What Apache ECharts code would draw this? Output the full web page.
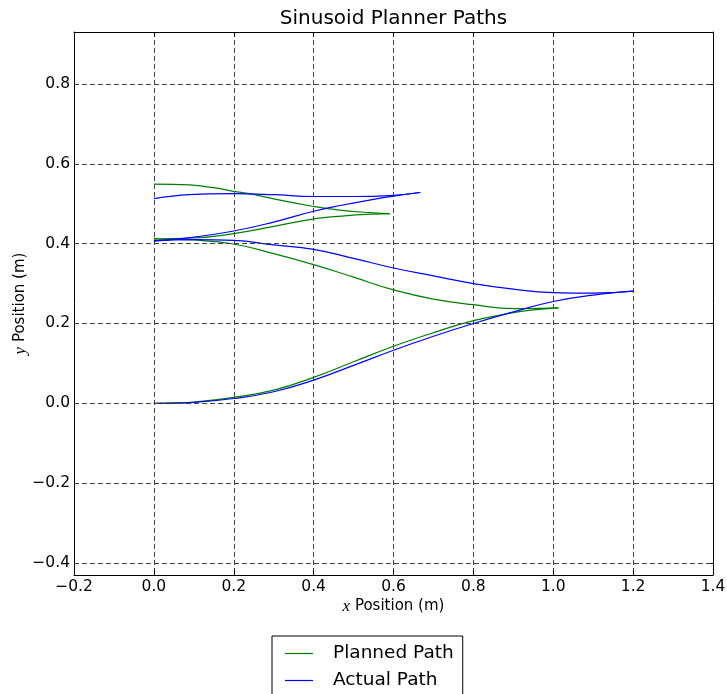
<!DOCTYPE html>
<html>
<head>
<meta charset="utf-8">
<title>Sinusoid Planner Paths</title>
<script src="https://cdn.jsdelivr.net/npm/echarts@6/dist/echarts.min.js"></script>
<style>
  html, body { margin: 0; padding: 0; background: #ffffff; }
  #chart { width: 727px; height: 694px; }
</style>
</head>
<body>
<div id="chart"></div>
<script>
// Axis ranges and tick values
const xRange = [-0.2, 1.4];
const xStep = 0.2;
const yRange = [-0.43, 0.93];
const yTicks = [-0.4, -0.2, 0.0, 0.2, 0.4, 0.6, 0.8];

// Planned path, drawn as four legs (each leg listed left to right)
const plannedLeg1X = [0, 0.05, 0.1, 0.2, 0.3, 0.4, 0.5, 0.6, 0.7, 0.8, 0.9, 0.95, 1.013];
const plannedLeg1Y = [0, 0.001, 0.003, 0.015, 0.033, 0.065, 0.104, 0.143, 0.177, 0.207, 0.227, 0.234, 0.239];
const plannedLeg2X = [0, 0.1, 0.2, 0.3, 0.4, 0.5, 0.6, 0.7, 0.8, 0.9, 0.95, 1.013];
const plannedLeg2Y = [0.412, 0.409, 0.399, 0.375, 0.3475, 0.316, 0.284, 0.261, 0.247, 0.237, 0.2375, 0.239];
const plannedLeg3X = [0, 0.1, 0.2, 0.3, 0.4, 0.47, 0.55, 0.591];
const plannedLeg3Y = [0.412, 0.414, 0.425, 0.443, 0.462, 0.469, 0.474, 0.475];
const plannedLeg4X = [0, 0.09, 0.15, 0.2, 0.24, 0.3, 0.4, 0.47, 0.55, 0.591];
const plannedLeg4Y = [0.549, 0.547, 0.540, 0.531, 0.525, 0.512, 0.493, 0.483, 0.477, 0.475];

// Actual (driven) path, four legs
const actualLeg1X = [0, 0.1, 0.2, 0.3, 0.4, 0.5, 0.6, 0.7, 0.8, 0.9, 1.0, 1.1, 1.2];
const actualLeg1Y = [0, 0.0025, 0.012, 0.029, 0.058, 0.095, 0.133, 0.168, 0.2, 0.229, 0.255, 0.271, 0.281];
const actualLeg2X = [0, 0.1, 0.2, 0.3, 0.4, 0.5, 0.6, 0.7, 0.8, 0.9, 1.0, 1.05, 1.1, 1.15, 1.2];
const actualLeg2Y = [0.407, 0.410, 0.408, 0.397, 0.3855, 0.363, 0.339, 0.319, 0.300, 0.286, 0.277, 0.276, 0.276, 0.2775, 0.281];
const actualLeg3X = [0, 0.09, 0.2, 0.3, 0.4, 0.47, 0.55, 0.6, 0.667];
const actualLeg3Y = [0.407, 0.415, 0.4316, 0.454, 0.481, 0.496, 0.511, 0.519, 0.528];
const actualLeg4X = [0, 0.09, 0.2, 0.3, 0.4, 0.5, 0.6, 0.667];
const actualLeg4Y = [0.5125, 0.5225, 0.525, 0.5225, 0.518, 0.518, 0.521, 0.528];

const PLANNED = 'Planned Path';
const ACTUAL = 'Actual Path';
const GREEN = '#008000';
const BLUE = '#0000ff';
const FONT = 'DejaVu Sans';

const zip = (xs, ys) => xs.map((x, i) => [x, ys[i]]);
const fmt = v => (Math.abs(v) < 1e-9 ? '0.0' : v.toFixed(1)).replace('-', '\u2212');

const legSeries = (name, color, xs, ys) => ({
  type: 'line',
  name: name,
  data: zip(xs, ys),
  symbol: 'none',
  showSymbol: false,
  smooth: 0.45,
  silent: true,
  z: 3,
  lineStyle: { color: color, width: 1.2 },
  itemStyle: { color: color }
});

const gridDash = { type: [5, 3], color: '#404040', width: 1 };
const frameLine = { show: true, onZero: false, lineStyle: { color: '#000', width: 1 } };
const innerTick = { show: true, inside: true, length: 5, lineStyle: { color: '#000', width: 1 } };
const tickLabel = { fontFamily: FONT, fontSize: 15.5, color: '#000', formatter: fmt };
const axisNameStyle = {
  fontFamily: FONT, fontSize: 15, color: '#000',
  rich: { i: { fontFamily: 'Liberation Serif', fontStyle: 'italic', fontSize: 17, color: '#000' } }
};

const chart = echarts.init(document.getElementById('chart'), null, { renderer: 'canvas' });

chart.setOption({
  animation: false,
  backgroundColor: '#ffffff',
  title: {
    text: 'Sinusoid Planner Paths',
    left: 393.5,
    top: 9,
    padding: 0,
    textAlign: 'center',
    textStyle: { fontFamily: FONT, fontSize: 20, fontWeight: 'normal', color: '#000' }
  },
  legend: {
    data: [PLANNED, ACTUAL],
    orient: 'vertical',
    left: 272,
    top: 636,
    height: 120,
    icon: 'rect',
    itemWidth: 28,
    itemHeight: 1.2,
    itemGap: 8,
    padding: [8, 9, 16, 13],
    borderColor: '#000',
    borderWidth: 1,
    borderRadius: 0,
    backgroundColor: '#fff',
    selectedMode: false,
    textStyle: { fontFamily: FONT, fontSize: 18.5, color: '#000', padding: [0, 0, 0, 15] }
  },
  grid: { left: 74, right: 14, top: 32, bottom: 119, containLabel: false, outerBoundsMode: 'none' },
  xAxis: [
    {
      type: 'value',
      position: 'bottom',
      min: xRange[0],
      max: xRange[1],
      interval: xStep,
      axisLine: frameLine,
      axisTick: innerTick,
      axisLabel: Object.assign({ margin: 4 }, tickLabel),
      splitLine: { show: true, lineStyle: gridDash },
      name: '{i|x} Position (m)',
      nameLocation: 'middle',
      nameGap: 23,
      nameMoveOverlap: false,
      nameTextStyle: axisNameStyle
    },
    {
      type: 'value',
      position: 'top',
      min: xRange[0],
      max: xRange[1],
      interval: xStep,
      axisLine: frameLine,
      axisTick: innerTick,
      axisLabel: { show: false },
      splitLine: { show: false }
    }
  ],
  yAxis: [
    {
      type: 'value',
      position: 'left',
      min: yRange[0],
      max: yRange[1],
      axisLine: frameLine,
      axisTick: Object.assign({ customValues: yTicks }, innerTick),
      axisLabel: Object.assign({ margin: 4, customValues: yTicks }, tickLabel),
      splitLine: { show: false },
      name: '{i|y} Position (m)',
      nameLocation: 'middle',
      nameGap: 45,
      nameMoveOverlap: false,
      nameTextStyle: axisNameStyle
    },
    {
      type: 'value',
      position: 'right',
      min: yRange[0],
      max: yRange[1],
      axisLine: frameLine,
      axisTick: Object.assign({ customValues: yTicks }, innerTick),
      axisLabel: { show: false, customValues: yTicks },
      splitLine: { show: false }
    }
  ],
  series: [
    // horizontal dashed grid lines at the y tick values
    {
      type: 'line',
      name: 'grid',
      data: [],
      silent: true,
      z: 1,
      markLine: {
        silent: true,
        symbol: ['none', 'none'],
        label: { show: false },
        lineStyle: gridDash,
        emphasis: { disabled: true },
        data: yTicks.map(v => ({ yAxis: v }))
      }
    },
    legSeries(PLANNED, GREEN, plannedLeg1X, plannedLeg1Y),
    legSeries(PLANNED, GREEN, plannedLeg2X, plannedLeg2Y),
    legSeries(PLANNED, GREEN, plannedLeg3X, plannedLeg3Y),
    legSeries(PLANNED, GREEN, plannedLeg4X, plannedLeg4Y),
    legSeries(ACTUAL, BLUE, actualLeg1X, actualLeg1Y),
    legSeries(ACTUAL, BLUE, actualLeg2X, actualLeg2Y),
    legSeries(ACTUAL, BLUE, actualLeg3X, actualLeg3Y),
    legSeries(ACTUAL, BLUE, actualLeg4X, actualLeg4Y)
  ]
});
</script>
</body>
</html>
